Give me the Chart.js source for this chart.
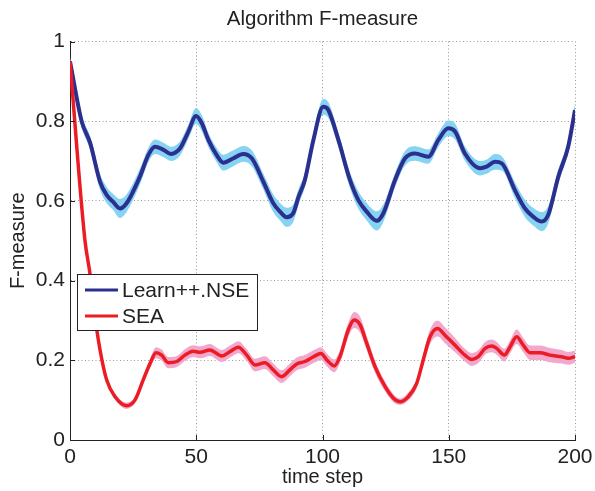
<!DOCTYPE html>
<html>
<head>
<meta charset="utf-8">
<script src="https://cdn.jsdelivr.net/npm/chart.js@4.4.0/dist/chart.umd.min.js"></script>
<style>
  html, body { margin: 0; padding: 0; background: #fff; }
</style>
</head>
<body>
<canvas id="chart" width="595" height="491"></canvas>
<script>
// time steps and F-measure
const learnSteps = [0, 4.6, 8, 11.9, 14.5, 17, 19.8, 22.4, 27.7, 31, 33.7, 37, 40, 43.6, 46.9, 49.9, 52.2, 54.8, 58.1, 60.7,
  64.7, 68.6, 72, 76.6, 80.5, 83.2, 85.8, 88.4, 90.5, 93, 96.4, 100.3, 102.3, 106.3, 110.9, 114.2, 117.5, 121.5, 124.1,
  128.7, 132.7, 136.6, 141.9, 145.9, 149.8, 152.5, 156.4, 162.4, 165, 168.3, 171, 176.2, 180.2, 183.5, 186.8, 189.4,
  193.4, 197.3, 200]
const learnF = [0.95, 0.80, 0.745, 0.648, 0.615, 0.598, 0.581, 0.594, 0.661, 0.715, 0.736, 0.728, 0.718, 0.732, 0.774, 0.813, 0.795, 0.753, 0.715, 0.696,
  0.707, 0.718, 0.707, 0.648, 0.594, 0.573, 0.559, 0.569, 0.61, 0.652, 0.753, 0.836, 0.828, 0.753, 0.652, 0.602, 0.573, 0.550, 0.569,
  0.652, 0.707, 0.719, 0.711, 0.753, 0.782, 0.774, 0.719, 0.682, 0.686, 0.698, 0.694, 0.627, 0.581, 0.560, 0.548, 0.565,
  0.661, 0.736, 0.828]
const learnSpread = [0.01, 0.015, 0.017, 0.02, 0.02, 0.02, 0.024, 0.022, 0.02, 0.018, 0.018, 0.018, 0.018, 0.018, 0.018, 0.02, 0.02, 0.018, 0.018, 0.02,
  0.02, 0.02, 0.02, 0.02, 0.022, 0.022, 0.024, 0.022, 0.02, 0.018, 0.018, 0.02, 0.02, 0.018, 0.02, 0.022, 0.022, 0.024, 0.022,
  0.018, 0.018, 0.018, 0.018, 0.018, 0.02, 0.02, 0.018, 0.018, 0.018, 0.02, 0.018, 0.02, 0.022, 0.022, 0.024, 0.022,
  0.018, 0.016, 0.016]

const seaSteps = [0, 5.9, 7.9, 9.9, 11.9, 14.5, 17.8, 22.4, 25.7, 29, 31.7, 34.1, 36.3, 38.9, 42.3, 45.5, 48.8, 51.5, 55.4, 60.1,
  63.4, 66.7, 70, 73.3, 77.2, 80.5, 83.8, 87.1, 89.8, 93, 96.4, 99.4, 101.7, 104.7, 106.9, 110.2, 112.6, 114.9, 117.5,
  120.8, 124.8, 128.1, 130.7, 134, 137.3, 139.9, 142.6, 145.6, 148.5, 152.5, 156.4, 159.1, 161.7, 164.4, 167, 169, 172,
  174.3, 176.9, 179.5, 182.2, 186.1, 190.1, 194.7, 197.3, 200]
const seaF = [0.95, 0.502, 0.418, 0.309, 0.226, 0.151, 0.109, 0.086, 0.100, 0.151, 0.192, 0.219, 0.213, 0.194, 0.197, 0.213, 0.223, 0.220, 0.226, 0.211,
  0.222, 0.233, 0.213, 0.188, 0.194, 0.176, 0.159, 0.176, 0.191, 0.197, 0.209, 0.217, 0.201, 0.186, 0.209, 0.276, 0.301, 0.289, 0.243,
  0.184, 0.134, 0.105, 0.096, 0.109, 0.142, 0.201, 0.259, 0.280, 0.263, 0.238, 0.213, 0.202, 0.209, 0.230, 0.236, 0.230, 0.213,
  0.234, 0.259, 0.238, 0.219, 0.219, 0.213, 0.209, 0.205, 0.209]
const seaSpread = [0.004, 0.005, 0.005, 0.006, 0.006, 0.006, 0.007, 0.008, 0.008, 0.01, 0.012, 0.014, 0.014, 0.014, 0.014, 0.015, 0.015, 0.015, 0.015, 0.015,
  0.015, 0.015, 0.015, 0.016, 0.016, 0.016, 0.016, 0.016, 0.016, 0.016, 0.016, 0.016, 0.016, 0.016, 0.016, 0.018, 0.02, 0.02, 0.018,
  0.015, 0.012, 0.01, 0.008, 0.01, 0.012, 0.015, 0.018, 0.02, 0.02, 0.018, 0.016, 0.016, 0.016, 0.016, 0.016, 0.016, 0.016,
  0.016, 0.018, 0.018, 0.018, 0.018, 0.018, 0.017, 0.016, 0.015]

const xTicks = [0, 50, 100, 150, 200]
const yTicks = [0, 0.2, 0.4, 0.6, 0.8, 1]
const legendOrder = ["Learn++.NSE", "SEA"]
const titleText = "Algorithm F-measure"

const toPts = (xs, ys) => xs.map((x, i) => ({ x: x, y: ys[i] }))
const band = (xs, ys, sp, sign) => xs.map((x, i) => ({ x: x, y: ys[i] + sign * sp[i] }))

const FONT = "'Liberation Sans', Arial, Helvetica, sans-serif"

// title centred over the axes, not over the canvas
const axesTitle = {
  id: "axesTitle",
  afterDraw(chart) {
    const { ctx, chartArea: a } = chart
    ctx.save()
    ctx.font = "20.5px " + FONT
    ctx.fillStyle = "#222"
    ctx.textAlign = "center"
    ctx.textBaseline = "middle"
    ctx.fillText(titleText, (a.left + a.right) / 2, 19)
    ctx.restore()
  }
}

// MATLAB style legend box inside the axes
const boxLegend = {
  id: "boxLegend",
  afterDatasetsDraw(chart) {
    const ctx = chart.ctx
    const items = legendOrder.map(n => chart.data.datasets.find(d => d.label === n))
    ctx.save()
    ctx.fillStyle = "#fff"
    ctx.fillRect(77, 274, 181, 57)
    ctx.strokeStyle = "#222"
    ctx.lineWidth = 1
    ctx.strokeRect(77.5, 274.5, 180, 56)
    ctx.font = "21px " + FONT
    ctx.textBaseline = "middle"
    items.forEach((d, i) => {
      const y = 290 + i * 26
      ctx.strokeStyle = d.borderColor
      ctx.lineWidth = 3
      ctx.beginPath()
      ctx.moveTo(85, y)
      ctx.lineTo(118, y)
      ctx.stroke()
      ctx.fillStyle = "#222"
      ctx.fillText(d.label, 122, y + 1)
    })
    ctx.restore()
  }
}

// small inward tick marks on the left and bottom axes
const innerTicks = {
  id: "innerTicks",
  afterDraw(chart) {
    const { ctx, chartArea: a, scales } = chart
    ctx.save()
    ctx.strokeStyle = "#222"
    ctx.lineWidth = 1
    ctx.beginPath()
    xTicks.forEach(v => {
      const px = Math.round(scales.x.getPixelForValue(v)) + 0.5
      ctx.moveTo(px, a.bottom)
      ctx.lineTo(px, a.bottom - 5)
    })
    yTicks.forEach(v => {
      const py = Math.round(scales.y.getPixelForValue(v)) + 0.5
      ctx.moveTo(a.left, py)
      ctx.lineTo(a.left + 5, py)
    })
    ctx.stroke()
    ctx.restore()
  }
}

new Chart(document.getElementById("chart"), {
  type: "line",
  data: {
    datasets: [
      {
        label: "SEA",
        data: toPts(seaSteps, seaF),
        borderColor: "#ec1c24",
        borderWidth: 3.5,
        pointRadius: 0,
        cubicInterpolationMode: "monotone",
        fill: false,
        order: 0
      },
      {
        label: "Learn++.NSE",
        data: toPts(learnSteps, learnF),
        borderColor: "#2b3090",
        borderWidth: 4,
        pointRadius: 0,
        cubicInterpolationMode: "monotone",
        fill: false,
        order: 1
      },
      {
        label: "sea upper",
        data: band(seaSteps, seaF, seaSpread, 1),
        borderWidth: 0,
        pointRadius: 0,
        cubicInterpolationMode: "monotone",
        fill: false,
        order: 2
      },
      {
        label: "sea lower",
        data: band(seaSteps, seaF, seaSpread, -1),
        borderWidth: 0,
        pointRadius: 0,
        cubicInterpolationMode: "monotone",
        backgroundColor: "#f2a7cc",
        fill: "-1",
        order: 2
      },
      {
        label: "learn upper",
        data: band(learnSteps, learnF, learnSpread, 1),
        borderWidth: 0,
        pointRadius: 0,
        cubicInterpolationMode: "monotone",
        fill: false,
        order: 3
      },
      {
        label: "learn lower",
        data: band(learnSteps, learnF, learnSpread, -1),
        borderWidth: 0,
        pointRadius: 0,
        cubicInterpolationMode: "monotone",
        backgroundColor: "#86d3f2",
        fill: "-1",
        order: 3
      }
    ]
  },
  options: {
    responsive: false,
    animation: false,
    layout: { padding: { left: 0, right: 20, top: 41.5, bottom: 0 } },
    plugins: {
      legend: { display: false },
      tooltip: { enabled: false },
      title: { display: false }
    },
    scales: {
      x: {
        type: "linear",
        min: 0,
        max: 200,
        afterFit: s => { s.height = 51; s.paddingRight = 0; s.paddingLeft = 0 },
        afterBuildTicks: s => { s.ticks = xTicks.map(v => ({ value: v })) },
        ticks: { color: "#222", font: { family: FONT, size: 21 }, padding: 5, maxRotation: 0 },
        grid: { color: "#9a9a9a", lineWidth: 1, drawTicks: false },
        border: { display: true, color: "#222", width: 1, dash: [1, 2.5] },
        title: {
          display: true,
          text: "time step",
          color: "#222",
          font: { family: FONT, size: 20 },
          padding: { top: 0, bottom: 2 }
        }
      },
      y: {
        min: 0,
        max: 1,
        afterFit: s => { s.width = 70; s.paddingTop = 0; s.paddingBottom = 0 },
        afterBuildTicks: s => { s.ticks = yTicks.map(v => ({ value: v })) },
        ticks: { color: "#222", font: { family: FONT, size: 21 }, padding: 5, callback: v => String(Math.round(v * 10) / 10) },
        grid: { color: "#9a9a9a", lineWidth: 1, drawTicks: false },
        border: { display: true, color: "#222", width: 1, dash: [1, 2.5] },
        title: {
          display: true,
          text: "F-measure",
          color: "#222",
          font: { family: FONT, size: 20 },
          padding: { top: 6.5, bottom: 0 }
        }
      }
    }
  },
  plugins: [innerTicks, boxLegend, axesTitle]
})
</script>
</body>
</html>
